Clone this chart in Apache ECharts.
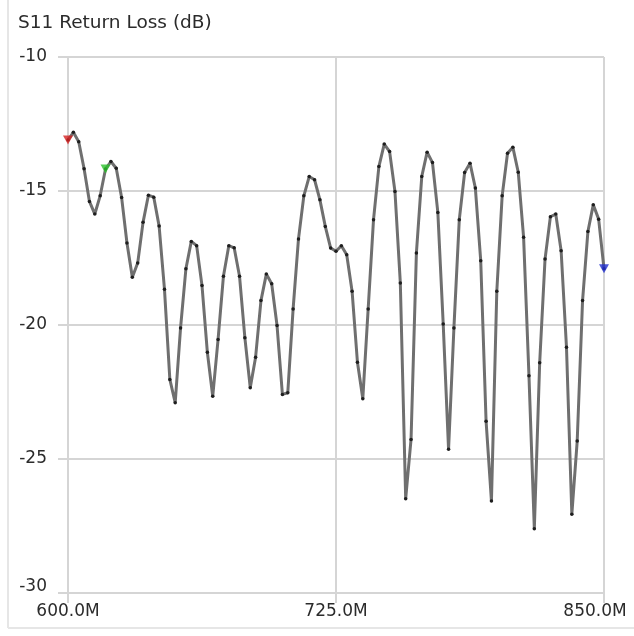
<!DOCTYPE html>
<html>
<head>
<meta charset="utf-8">
<script src="https://cdn.jsdelivr.net/npm/echarts@6/dist/echarts.min.js"></script>
<style>
  html, body { margin: 0; padding: 0; background: #fff; }
  #chart { width: 634px; height: 636px; }
</style>
</head>
<body>
<div id="chart"></div>
<script>
// sweep: 600 MHz to 850 MHz, 101 points
const START_MHZ = 600;
const STEP_MHZ = 2.5;

// S11 readings (dB)
const s11 = [
  -13.10, -12.81, -13.16, -14.17, -15.39, -15.86, -15.18, -14.18, -13.90, -14.15,
  -15.24, -16.94, -18.22, -17.69, -16.17, -15.16, -15.23, -16.31, -18.67, -22.03,
  -22.90, -20.11, -17.90, -16.88, -17.04, -18.53, -21.02, -22.66, -20.54, -18.18,
  -17.04, -17.12, -18.18, -20.48, -22.34, -21.20, -19.09, -18.10, -18.46, -20.02,
  -22.59, -22.53, -19.40, -16.79, -15.18, -14.46, -14.58, -15.33, -16.32, -17.13,
  -17.25, -17.04, -17.38, -18.74, -21.39, -22.75, -19.40, -16.07, -14.09, -13.25,
  -13.53, -15.02, -18.43, -26.48, -24.27, -17.31, -14.46, -13.55, -13.94, -15.80,
  -19.96, -24.64, -20.11, -16.07, -14.31, -13.96, -14.89, -17.60, -23.59, -26.57,
  -18.74, -15.18, -13.59, -13.37, -14.30, -16.73, -21.89, -27.60, -21.41, -17.54,
  -15.96, -15.86, -17.23, -20.83, -27.06, -24.33, -19.09, -16.51, -15.51, -16.05,
  -17.90
];

// markers: sample index + colour
const markerIdx = [0, 7, 100];
const markerColors = ['#d42020', '#2cc22c', '#2030d0'];

const xTicks = [600, 725, 850];
const yTicks = [-10, -15, -20, -25, -30];

const freqs = s11.map((_, i) => START_MHZ + i * STEP_MHZ);
const lineData = s11.map((v, i) => [freqs[i], v]);
const markerData = markerIdx.map((k, j) => ({
  value: [freqs[k], s11[k]],
  itemStyle: { color: markerColors[j] }
}));

const gridColor = '#d5d5d5';
const font = 'DejaVu Sans';
const txt = '#2b2b2b';

const chart = echarts.init(document.getElementById('chart'));
chart.setOption({
  animation: false,
  backgroundColor: '#fff',
  title: {
    text: 'S11 Return Loss (dB)',
    left: 13,
    top: 9,
    textStyle: { fontFamily: font, fontSize: 18.5, fontWeight: 'normal', color: txt }
  },
  grid: { left: 68, right: 30, top: 57, bottom: 43 },
  xAxis: {
    type: 'value',
    min: xTicks[0],
    max: xTicks[xTicks.length - 1],
    interval: xTicks[1] - xTicks[0],
    axisLine: { show: true, lineStyle: { color: gridColor, width: 2 } },
    axisTick: { show: true, length: 10, lineStyle: { color: gridColor, width: 2 } },
    splitLine: { show: true, lineStyle: { color: gridColor, width: 2 } },
    axisLabel: {
      margin: 10,
      fontFamily: font,
      fontSize: 17,
      color: txt,
      showMaxLabel: true,
      formatter: v => v === 850 ? '{last|' + v.toFixed(1) + 'M}' : v.toFixed(1) + 'M',
      rich: { last: { fontFamily: font, fontSize: 17, color: txt, padding: [0, 18, 0, 0] } }
    }
  },
  yAxis: {
    type: 'value',
    min: yTicks[yTicks.length - 1],
    max: yTicks[0],
    interval: 5,
    axisLine: { show: true, lineStyle: { color: gridColor, width: 2 } },
    axisTick: { show: true, length: 10, lineStyle: { color: gridColor, width: 2 } },
    splitLine: { show: true, lineStyle: { color: gridColor, width: 2 } },
    axisLabel: {
      margin: 21,
      fontFamily: font,
      fontSize: 17,
      color: txt,
      formatter: v => v === -30 ? '{low|' + v + '}' : String(v),
      rich: { low: { fontFamily: font, fontSize: 17, color: txt, padding: [0, 0, 12, 0] } }
    }
  },
  graphic: [
    { type: 'line', shape: { x1: 8, y1: 0, x2: 8, y2: 628 }, style: { stroke: '#e6e6e6', lineWidth: 2 } },
    { type: 'line', shape: { x1: 8, y1: 628, x2: 634, y2: 628 }, style: { stroke: '#e6e6e6', lineWidth: 2 } }
  ],
  series: [
    {
      type: 'line',
      data: lineData,
      symbol: 'circle',
      symbolSize: 3.5,
      showSymbol: true,
      itemStyle: { color: '#1e1e1e', borderWidth: 0 },
      lineStyle: { color: '#6f6f6f', width: 3 },
      z: 2
    },
    {
      type: 'scatter',
      data: markerData,
      symbol: 'triangle',
      symbolRotate: 180,
      symbolSize: [10, 9],
      z: 3
    }
  ]
});
</script>
</body>
</html>
